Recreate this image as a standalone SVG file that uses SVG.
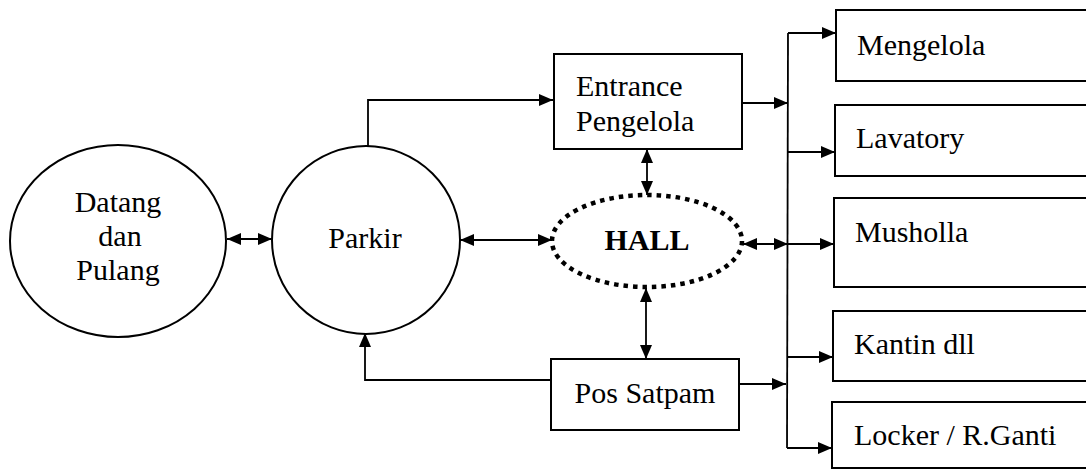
<svg xmlns="http://www.w3.org/2000/svg" width="1086" height="470" viewBox="0 0 1086 470">
  <style>
    .shape { fill: #fff; stroke: #000; stroke-width: 2; }
    .hall { fill: #fff; stroke: #000; stroke-width: 4.5; stroke-dasharray: 4.5 5; }
    .lbl { font-family: 'Liberation Serif', serif; font-size: 30px; fill: #000; }
    .mid { text-anchor: middle; }
    .bold { font-weight: bold; }
    .wire { fill: none; stroke: #000; stroke-width: 1.8; }
  </style>
  <defs>
    <marker id="head" viewBox="0 0 14 12" refX="14" refY="6" markerWidth="14" markerHeight="12" markerUnits="userSpaceOnUse" orient="auto-start-reverse">
      <path d="M0,0 L14,6 L0,12 Z" fill="#000"/>
    </marker>
  </defs>

  <rect width="1086" height="470" fill="#fff"/>

  <!-- connectors -->
  <g id="connectors">
    <!-- Datang dan Pulang <-> Parkir -->
    <line class="wire" x1="227" y1="239" x2="272" y2="239" marker-start="url(#head)" marker-end="url(#head)"/>
    <!-- Parkir -> Entrance Pengelola -->
    <polyline class="wire" points="368,146 368,100 553,100" marker-end="url(#head)"/>
    <!-- Pos Satpam -> Parkir -->
    <polyline class="wire" points="551,380 365,380 365,333" marker-end="url(#head)"/>
    <!-- Parkir <-> HALL -->
    <line class="wire" x1="460" y1="240" x2="552" y2="240" marker-start="url(#head)" marker-end="url(#head)"/>
    <!-- Entrance Pengelola <-> HALL -->
    <line class="wire" x1="647" y1="149" x2="647" y2="195" marker-start="url(#head)" marker-end="url(#head)"/>
    <!-- HALL <-> Pos Satpam -->
    <line class="wire" x1="646" y1="288" x2="646" y2="359" marker-start="url(#head)" marker-end="url(#head)"/>
    <!-- HALL <-> distribution bus -->
    <line class="wire" x1="743" y1="244" x2="788" y2="244" marker-start="url(#head)" marker-end="url(#head)"/>
    <!-- Entrance / Pos Satpam -> bus -->
    <line class="wire" x1="742" y1="103" x2="788" y2="103" marker-end="url(#head)"/>
    <line class="wire" x1="739" y1="384" x2="786" y2="384" marker-end="url(#head)"/>
    <!-- distribution bus -->
    <line class="wire" x1="788" y1="33" x2="787" y2="448"/>
    <!-- bus -> rooms -->
    <line class="wire" x1="788" y1="33" x2="836" y2="33" marker-end="url(#head)"/>
    <line class="wire" x1="788" y1="152" x2="835" y2="152" marker-end="url(#head)"/>
    <line class="wire" x1="788" y1="244" x2="834" y2="244" marker-end="url(#head)"/>
    <line class="wire" x1="787" y1="357" x2="833" y2="357" marker-end="url(#head)"/>
    <line class="wire" x1="787" y1="448" x2="832" y2="448" marker-end="url(#head)"/>
  </g>

  <!-- nodes -->
  <g id="datang">
    <ellipse class="shape" cx="118" cy="241" rx="108" ry="96"/>
    <text class="lbl mid" x="118" y="212">Datang</text>
    <text class="lbl mid" x="120" y="246">dan</text>
    <text class="lbl mid" x="118" y="280">Pulang</text>
  </g>

  <g id="parkir">
    <ellipse class="shape" cx="366" cy="240" rx="94" ry="94"/>
    <text class="lbl mid" x="365" y="248">Parkir</text>
  </g>

  <g id="entrance">
    <rect class="shape" x="554" y="54" width="188" height="95"/>
    <text class="lbl" x="576" y="96">Entrance</text>
    <text class="lbl" x="576" y="131">Pengelola</text>
  </g>

  <g id="hall">
    <ellipse class="hall" cx="647" cy="241" rx="95" ry="46"/>
    <text class="lbl mid bold" x="647" y="250">HALL</text>
  </g>

  <g id="pos-satpam">
    <rect class="shape" x="551" y="359" width="188" height="71"/>
    <text class="lbl mid" x="645" y="403">Pos Satpam</text>
  </g>

  <g id="mengelola">
    <rect class="shape" x="836" y="10" width="260" height="71"/>
    <text class="lbl" x="857" y="55">Mengelola</text>
  </g>

  <g id="lavatory">
    <rect class="shape" x="835" y="105" width="260" height="71"/>
    <text class="lbl" x="856" y="148">Lavatory</text>
  </g>

  <g id="musholla">
    <rect class="shape" x="834" y="198" width="260" height="89"/>
    <text class="lbl" x="855" y="242">Musholla</text>
  </g>

  <g id="kantin">
    <rect class="shape" x="833" y="311" width="260" height="70"/>
    <text class="lbl" x="854" y="354">Kantin dll</text>
  </g>

  <g id="locker">
    <rect class="shape" x="832" y="402" width="260" height="66"/>
    <text class="lbl" x="854" y="445">Locker / R.Ganti</text>
  </g>
</svg>
